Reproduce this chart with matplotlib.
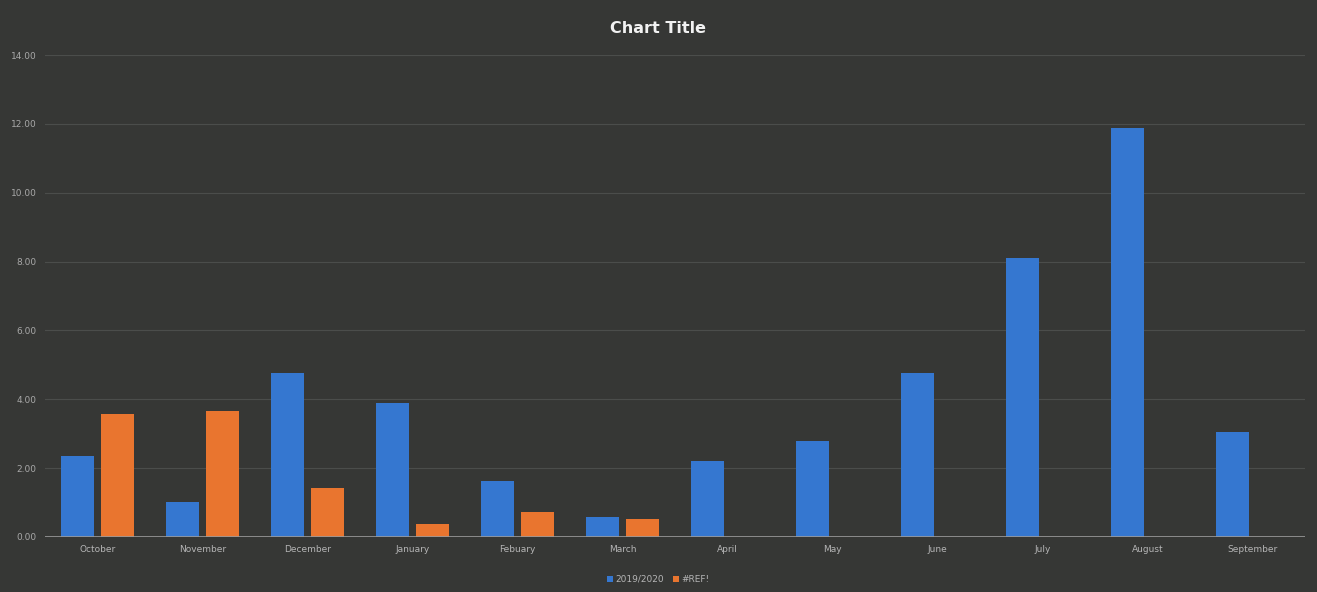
import numpy as np
import matplotlib.pyplot as plt

months = ["October", "November", "December", "January", "Febuary", "March",
          "April", "May", "June", "July", "August", "September"]
series_2019 = [2.35, 1.02, 4.77, 3.90, 1.63, 0.58, 2.20, 2.79, 4.77, 8.10, 11.89, 3.05]
series_ref = [3.57, 3.66, 1.42, 0.38, 0.73, 0.52, 0, 0, 0, 0, 0, 0]
yticks = [0, 2, 4, 6, 8, 10, 12, 14]

bg = "#363735"
fig = plt.figure(figsize=(13.17, 5.92), dpi=100, facecolor=bg)
ax = fig.add_axes([0.034, 0.093, 0.957, 0.814], facecolor=bg)

x = np.arange(len(months))
w = 0.31
ax.bar(x - 0.19, series_2019, w, color="#3577d0", label="2019/2020", zorder=3)
ax.bar(x + 0.19, series_ref, w, color="#e9752f", label="#REF!", zorder=3)

ax.set_xlim(-0.5, len(months) - 0.5)
ax.set_ylim(0, 14)
ax.set_yticks(yticks)
ax.set_yticklabels([f"{v:.2f}" for v in yticks], color="#a8a8a8", fontsize=6.5)
ax.set_xticks(x)
ax.set_xticklabels(months, color="#b5b5b5", fontsize=6.5)
ax.tick_params(length=0, pad=6)
ax.yaxis.grid(True, color="#4b4d4b", linewidth=0.8, zorder=0)
for s in ax.spines.values():
    s.set_visible(False)
ax.axhline(0, color="#9a9a9a", linewidth=1.2, zorder=4)

fig.text(0.5, 0.952, "Chart Title", ha="center", va="center",
         color="#f2f2f2", fontsize=11.5, fontweight="bold")
leg = fig.legend(loc="lower center", bbox_to_anchor=(0.5, 0.0), ncol=2,
                 frameon=False, fontsize=6.5, handlelength=0.6, handleheight=0.6,
                 columnspacing=1.0, handletextpad=0.3)
for t in leg.get_texts():
    t.set_color("#b5b5b5")

plt.savefig("out.png", dpi=100, facecolor=bg)
